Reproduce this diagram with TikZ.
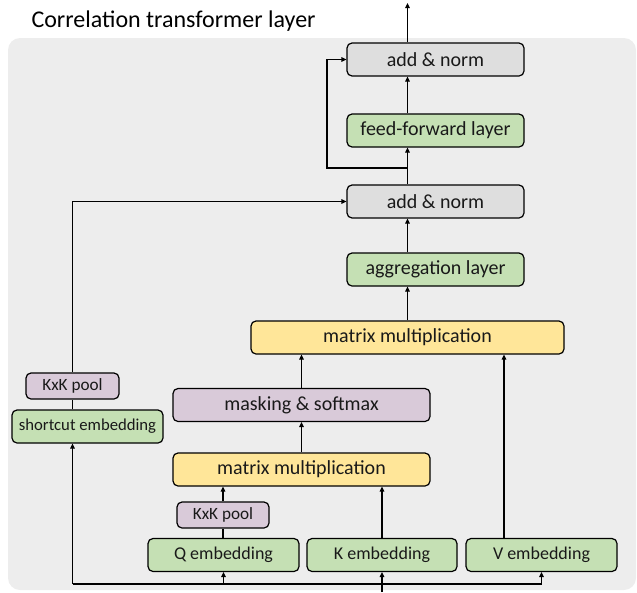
\documentclass[tikz,border=0pt]{standalone}
\usepackage{fontspec}
\setmainfont{Carlito}
\usetikzlibrary{arrows.meta}

\definecolor{bgc}{HTML}{EDEDED}
\definecolor{normc}{HTML}{DEDEDE}
\definecolor{layerc}{HTML}{C5E0B4}
\definecolor{mulc}{HTML}{FFE699}
\definecolor{poolc}{HTML}{D9CAD9}

\begin{document}
\begin{tikzpicture}[x=1pt, y=-1pt,
  box/.style={draw, line width=1.2pt, rounded corners=5pt, minimum height=33pt,
    inner sep=0pt, text=black!90, font=\fontsize{20}{22}\selectfont},
  small/.style={box, font=\fontsize{18}{20}\selectfont},
  norm/.style={box, fill=normc, minimum width=177pt},
  layer/.style={box, fill=layerc},
  mul/.style={box, fill=mulc},
  pool/.style={small, fill=poolc, minimum height=26pt, font=\fontsize{17.2}{19}\selectfont},
  arr/.style={line width=1.2pt, -{Triangle[length=5pt, width=4.5pt]}},
  line/.style={line width=1.2pt}]
  \useasboundingbox (0,0) rectangle (637,592);
  \fill[bgc, rounded corners=12pt] (8,38) rectangle (636,590);
  \node[anchor=base west, font=\fontsize{24}{26}\selectfont] (title) at (28,27) {Correlation transformer layer};

  \node[norm] (an2) at (435.5,59.5) {add \& norm};
  \node[layer, minimum width=177pt] (ff) at (435.5,130.5) {feed-forward layer};
  \node[norm] (an1) at (435.5,201.5) {add \& norm};
  \node[layer, minimum width=177pt] (agg) at (435.5,269.5) {aggregation layer};
  \node[mul, minimum width=313pt] (mm2) at (407.5,337.5) {matrix multiplication};
  \node[box, fill=poolc, minimum width=257pt] (mask) at (301.5,405) {masking \& softmax};
  \node[mul, minimum width=257pt] (mm1) at (301.5,469.5) {matrix multiplication};
  \node[pool, minimum width=92pt] (poolq) at (223,515) {KxK pool};
  \node[small, fill=layerc, minimum width=151pt] (qemb) at (223.5,555) {Q embedding};
  \node[small, fill=layerc, minimum width=150pt] (kemb) at (382,555) {K embedding};
  \node[small, fill=layerc, minimum width=151pt] (vemb) at (541.5,555) {V embedding};
  \node[pool, minimum width=93pt] (pools) at (72.5,386) {KxK pool};
  \node[small, fill=layerc, minimum width=151pt, font=\fontsize{16.7}{18}\selectfont] (semb) at (87.5,426.5) {shortcut embedding};

  \coordinate (out) at (407.5,3);
  \coordinate (res) at (327,168);
  \coordinate (in) at (382,592);
  \coordinate (bus) at (72.5,584);

  % main path
  \draw[arr] (mm2.north) -- (agg.south -| mm2);
  \draw[arr] (agg.north -| mm2) -- (an1.south -| mm2);
  \draw[arr] (an1.north -| mm2) -- (ff.south -| mm2);
  \draw[arr] (ff.north -| mm2) -- (an2.south -| mm2);
  \draw[arr] (an2.north -| mm2) -- (out);
  \draw[arr] (res -| mm2) -- (res) |- (an2.west);

  % attention
  \draw[arr] (mask) -- (mask |- mm2.south);
  \draw[arr] (mm1) -- (mask);
  \draw[arr] (poolq) -- (mm1.south -| poolq);
  \draw[line] (qemb.north -| poolq) -- (poolq.south);
  \draw[arr] (kemb) -- (mm1.south -| kemb);
  \draw[arr] ([xshift=-37.5pt]vemb.north) coordinate (vt) -- (vt |- mm2.south);

  % shortcut
  \draw[line] (semb.north -| pools) -- (pools.south);
  \draw[arr] (pools.north) |- (an1.west);

  % input
  \draw[arr] (in) -- (kemb.south);
  \draw[line] (bus) -- (bus -| vemb);
  \draw[arr] (bus -| vemb) -- (vemb.south);
  \draw[arr] (bus -| qemb) -- (qemb.south);
  \draw[arr] (bus) -- (semb.south -| bus);
\end{tikzpicture}
\end{document}
